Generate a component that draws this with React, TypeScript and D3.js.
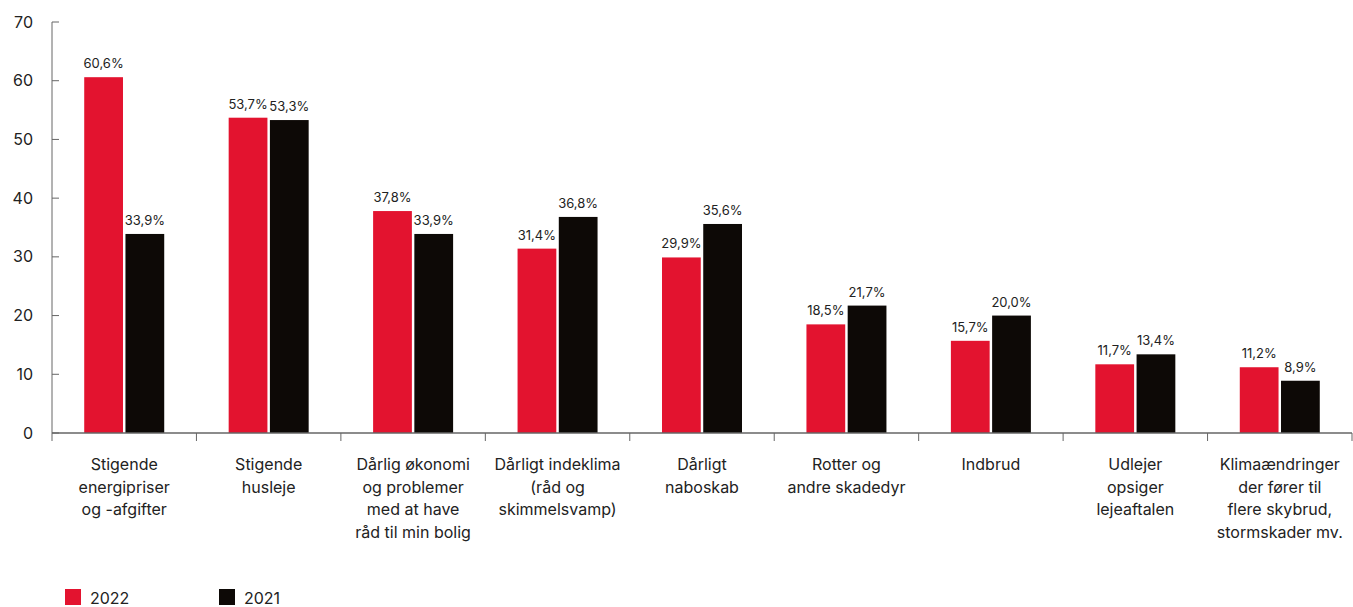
import React from "react";
import * as d3 from "d3";

const categories: string[][] = [
  ["Stigende", "energipriser", "og -afgifter"],
  ["Stigende", "husleje"],
  ["Dårlig økonomi", "og problemer", "med at have", "råd til min bolig"],
  ["Dårligt indeklima", "(råd og", "skimmelsvamp)"],
  ["Dårligt", "naboskab"],
  ["Rotter og", "andre skadedyr"],
  ["Indbrud"],
  ["Udlejer", "opsiger", "lejeaftalen"],
  ["Klimaændringer", "der fører til", "flere skybrud,", "stormskader mv."],
];
const values2022 = [60.6, 53.7, 37.8, 31.4, 29.9, 18.5, 15.7, 11.7, 11.2];
const values2021 = [33.9, 53.3, 33.9, 36.8, 35.6, 21.7, 20.0, 13.4, 8.9];
const seriesNames = ["2022", "2021"];
const yTicks = [0, 10, 20, 30, 40, 50, 60, 70];

const W = 1353;
const H = 607;
const left = 52;
const right = 1352;
const top = 22;
const bottom = 433;
const RED = "#E3132F";
const BLACK = "#0D0906";
const TEXT = "#222222";
const AXIS = "#666666";
const FONT = "Inter, 'Open Sans', sans-serif";

export default function App() {
  const idx = categories.map((_, i) => String(i));
  const x0 = d3.scaleBand<string>().domain(idx).range([left, right]);
  const x1 = d3.scaleBand<string>().domain(seriesNames).range([0, 80]).paddingInner(0.06);
  const y = d3.scaleLinear().domain([0, 70]).range([bottom, top]);
  const series = [values2022, values2021];
  const colors = [RED, BLACK];
  const fmt = (v: number) => v.toFixed(1).replace(".", ",") + "%";

  return (
    <svg
      width={W}
      height={H}
      style={{ position: "absolute", left: 0, top: 0, display: "block", fontFamily: FONT }}
    >
      <rect x={0} y={0} width={W} height={H} fill="#fff" />
      {/* y axis */}
      <line x1={left} x2={left} y1={top} y2={bottom} stroke={AXIS} strokeWidth={1} />
      {yTicks.map((t) => (
        <g key={t}>
          <line x1={left} x2={left + 7} y1={y(t)} y2={y(t)} stroke={AXIS} strokeWidth={1} />
          <text
            x={33}
            y={y(t)}
            dy="0.35em"
            textAnchor="end"
            fontSize={16}
            fill={TEXT}
          >
            {t}
          </text>
        </g>
      ))}
      {/* bars */}
      {idx.map((c, i) => {
        const cx = (x0(c) as number) + x0.bandwidth() / 2;
        return (
          <g key={c} transform={`translate(${cx - 40},0)`}>
            {seriesNames.map((s, k) => {
              const v = series[k][i];
              const bx = x1(s) as number;
              return (
                <g key={s}>
                  <rect
                    x={bx}
                    y={y(v)}
                    width={x1.bandwidth()}
                    height={y(0) - y(v)}
                    fill={colors[k]}
                  />
                  <text
                    x={bx + x1.bandwidth() / 2}
                    y={y(v) - 9}
                    textAnchor="middle"
                    fontSize={13}
                    fill={TEXT}
                  >
                    {fmt(v)}
                  </text>
                </g>
              );
            })}
          </g>
        );
      })}
      {/* x axis */}
      <line x1={left} x2={right} y1={bottom} y2={bottom} stroke={AXIS} strokeWidth={1.5} />
      {[...idx.map((c) => x0(c) as number), right].map((tx, i) => (
        <line key={i} x1={tx} x2={tx} y1={bottom} y2={bottom + 8} stroke={AXIS} strokeWidth={1} />
      ))}
      {categories.map((lines, i) => {
        const cx = (x0(String(i)) as number) + x0.bandwidth() / 2;
        return (
          <text key={i} x={cx} y={470} textAnchor="middle" fontSize={16} fill={TEXT}>
            {lines.map((ln, j) => (
              <tspan key={j} x={cx} dy={j === 0 ? 0 : 22.5}>
                {ln}
              </tspan>
            ))}
          </text>
        );
      })}
      {/* legend */}
      {seriesNames.map((s, k) => (
        <g key={s} transform={`translate(${65 + k * 154},589)`}>
          <rect x={0} y={0} width={16} height={16} fill={colors[k]} />
          <text x={25} y={15} fontSize={16} fill={TEXT}>
            {s}
          </text>
        </g>
      ))}
    </svg>
  );
}
